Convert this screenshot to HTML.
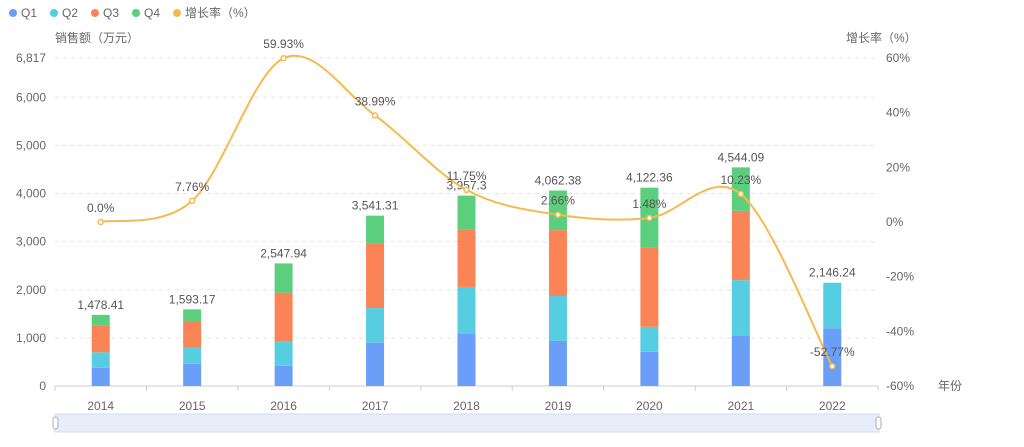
<!DOCTYPE html>
<html><head><meta charset="utf-8"><style>
body{margin:0;background:#fff;width:1024px;height:442px;overflow:hidden}
svg{font-family:"Liberation Sans","Noto Sans CJK SC",sans-serif}
</style></head><body>
<svg id="s" width="1024" height="442" xmlns="http://www.w3.org/2000/svg">
<g font-size="12" fill="#666">
<circle cx="13" cy="13" r="4" fill="#6a9ef8"/><text x="21" y="17">Q1</text>
<circle cx="54" cy="13" r="4" fill="#56cde0"/><text x="62" y="17">Q2</text>
<circle cx="95" cy="13" r="4" fill="#fb8456"/><text x="103" y="17">Q3</text>
<circle cx="136" cy="13" r="4" fill="#5ccf7f"/><text x="144" y="17">Q4</text>
<circle cx="177" cy="13" r="4" fill="#f5b94f"/><text x="185" y="17">增长率（%）</text>
<text x="55" y="42">销售额（万元）</text>
<text x="846" y="42">增长率（%）</text>
<text x="938" y="390">年份</text>
</g>
<g id="g"></g>
<rect x="55" y="414" width="824" height="18" fill="#e8edfa" stroke="#d2dbee"/>
<rect x="53" y="417" width="5" height="12" rx="2.5" fill="#fff" stroke="#aab"/>
<rect x="876" y="417" width="5" height="12" rx="2.5" fill="#fff" stroke="#aab"/>
</svg>
<script>
const g=document.getElementById('g');let h='';
const y0=386,k=328/6817;const Y=v=>y0-v*k;const P=p=>222-p*328/120;
[1000,2000,3000,4000,5000,6000].forEach(v=>{h+=`<line x1="55" x2="878" y1="${Y(v)}" y2="${Y(v)}" stroke="#e6e6e6" stroke-dasharray="4,4"/>`;});
h+=`<line x1="55" x2="878" y1="58" y2="58" stroke="#e6e6e6" stroke-dasharray="4,4"/>`;
h+=`<line x1="55" x2="878" y1="386" y2="386" stroke="#ccc"/>`;
const lt=[[6817,'6,817'],[6000,'6,000'],[5000,'5,000'],[4000,'4,000'],[3000,'3,000'],[2000,'2,000'],[1000,'1,000'],[0,'0']];
lt.forEach(([v,t])=>h+=`<text x="46" y="${Y(v)+4}" text-anchor="end" font-size="12" fill="#666">${t}</text>`);
[60,40,20,0,-20,-40,-60].forEach(p=>h+=`<text x="886" y="${P(p)+4}" font-size="12" fill="#666">${p}%</text>`);
const yrs=[2014,2015,2016,2017,2018,2019,2020,2021,2022];
const q=[[380,320,560,218],[460,350,540,243],[420,500,1020,608],[900,720,1350,571],[1080,980,1200,697],[940,930,1370,822],[710,520,1640,1252],[1040,1160,1440,904],[1200,946,0,0]];
const tot=['1,478.41','1,593.17','2,547.94','3,541.31','3,957.3','4,062.38','4,122.36','4,544.09','2,146.24'];
const pc=[0,7.76,59.93,38.99,11.75,2.66,1.48,10.23,-52.77];
const cols=['#6a9ef8','#56cde0','#fb8456','#5ccf7f'];
const w=823/9;
for(let i=0;i<=9;i++){const x=55+w*i;h+=`<line x1="${x}" x2="${x}" y1="386" y2="391" stroke="#ccc"/>`;}
const pts=[];
yrs.forEach((yr,i)=>{const cx=55+w*(i+0.5);let acc=0;
 q[i].forEach((v,j)=>{if(!v)return;h+=`<rect x="${cx-9}" y="${Y(acc+v)}" width="18" height="${v*k}" fill="${cols[j]}"/>`;acc+=v;});
 h+=`<text x="${cx}" y="${Y(acc)-6}" text-anchor="middle" font-size="12" fill="#555">${tot[i]}</text>`;
 h+=`<text x="${cx}" y="${410}" text-anchor="middle" font-size="12" fill="#666">${yr}</text>`;
 pts.push([cx,P(pc[i])]);});
let d=`M${pts[0][0]},${pts[0][1]}`;
for(let i=0;i<pts.length-1;i++){const p0=pts[Math.max(i-1,0)],p1=pts[i],p2=pts[i+1],p3=pts[Math.min(i+2,pts.length-1)];const t=0.5/3*2;
 d+=` C${p1[0]+(p2[0]-p0[0])*t/2},${p1[1]+(p2[1]-p0[1])*t/2} ${p2[0]-(p3[0]-p1[0])*t/2},${p2[1]-(p3[1]-p1[1])*t/2} ${p2[0]},${p2[1]}`;}
h+=`<path d="${d}" fill="none" stroke="#f5b94f" stroke-width="2"/>`;
pts.forEach((p,i)=>{h+=`<circle cx="${p[0]}" cy="${p[1]}" r="2.5" fill="#fff" stroke="#f5b94f" stroke-width="1.5"/>`;
 h+=`<text x="${p[0]}" y="${p[1]-10}" text-anchor="middle" font-size="12" fill="#555">${pc[i]===0?'0.0':pc[i]}%</text>`;});
g.innerHTML=h;
</script>
</body></html>
